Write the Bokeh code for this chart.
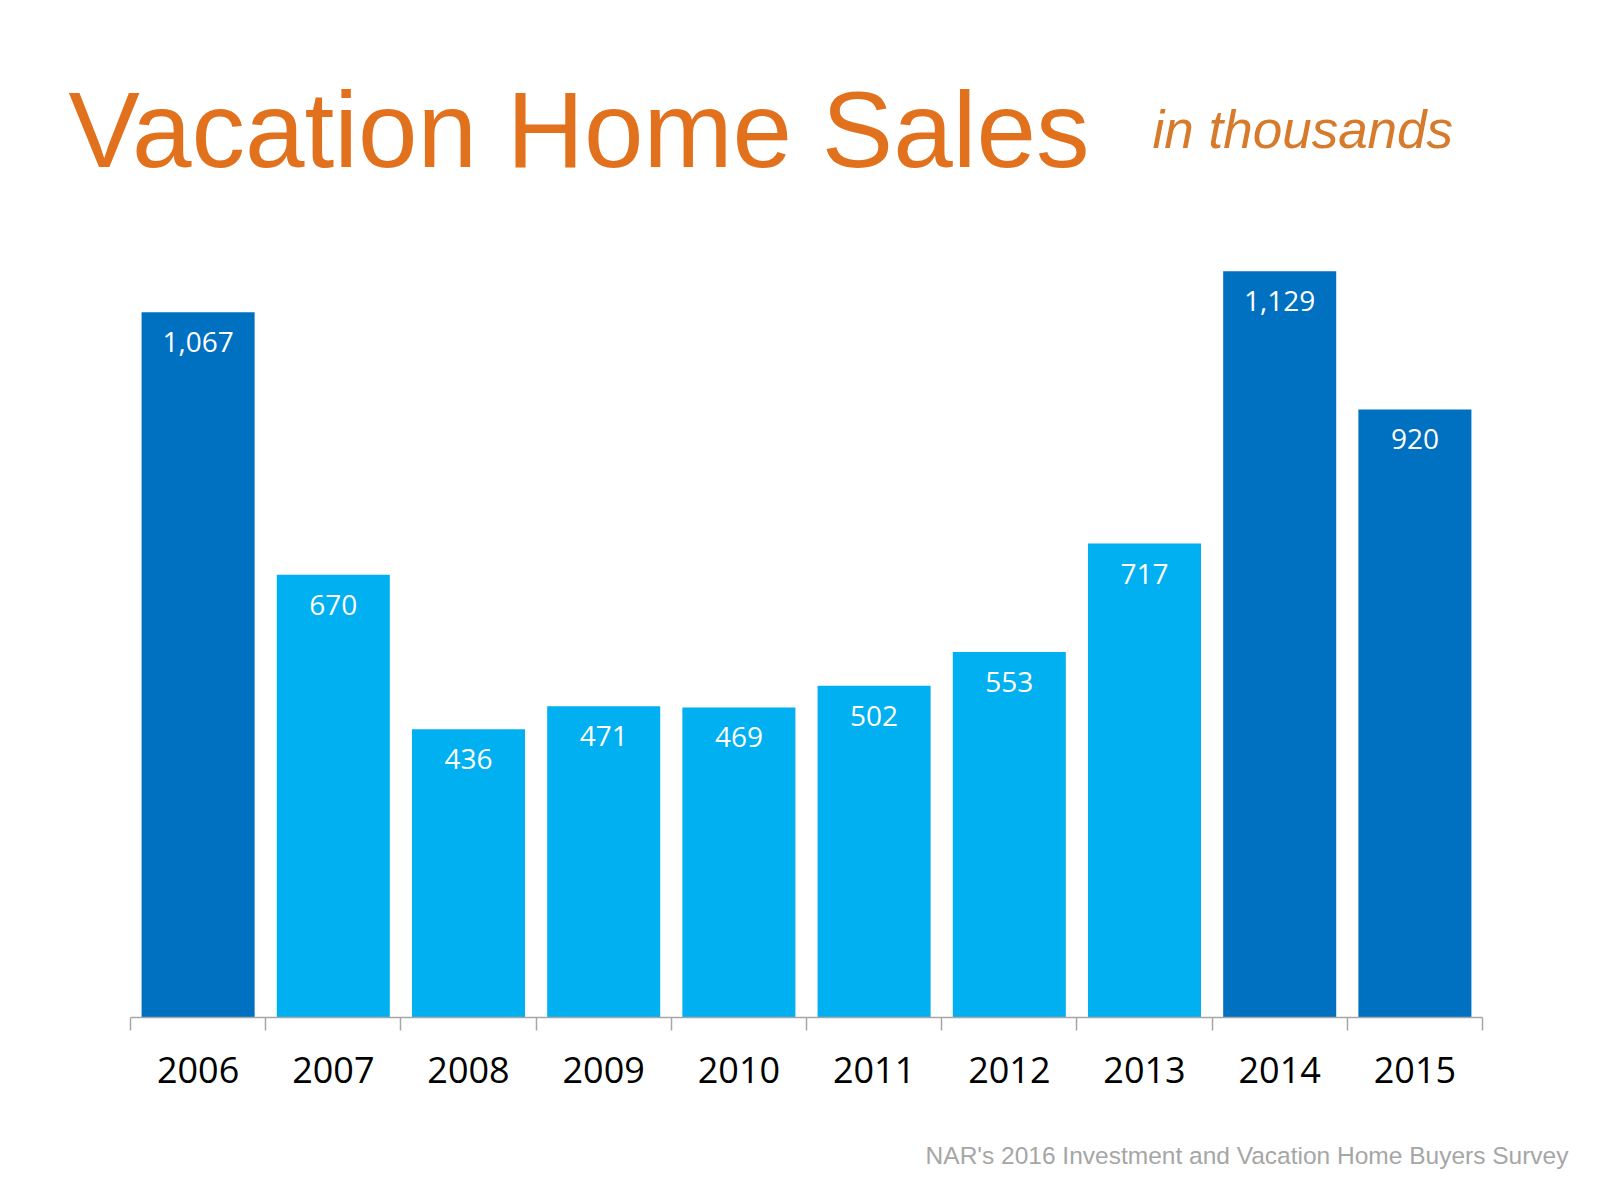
from bokeh.plotting import figure
from bokeh.models import (Range1d, LinearAxis, FixedTicker, ColumnDataSource, Label, Title,
                          CustomLabelingPolicy)
from bokeh.core.properties import value
from bokeh.embed import file_html
from bokeh.resources import INLINE

years = ["2006", "2007", "2008", "2009", "2010", "2011", "2012", "2013", "2014", "2015"]
sales = [1067, 670, 436, 471, 469, 502, 553, 717, 1129, 920]
sales_labels = ["1,067", "670", "436", "471", "469", "502", "553", "717", "1,129", "920"]
highlight = [True, False, False, False, False, False, False, False, True, True]

DARK = "#0070C0"
LIGHT = "#00B0F0"
colors = [DARK if h else LIGHT for h in highlight]
n = len(years)
centers = [i + 0.5 for i in range(n)]

src = ColumnDataSource(dict(x=centers, year=years, sales=sales, label=sales_labels, color=colors))

# frame covers the full width and everything above the axis line
W, H = 1584, 1184
AXIS_Y = 1017          # px from top
LEFT, RIGHT = 130, 1482  # px extent of the categories
unit = (RIGHT - LEFT) / n
px_per_val = 0.661

p = figure(width=W, height=H, output_backend="svg", toolbar_location=None,
           x_range=Range1d(-LEFT / unit, n + (W - RIGHT) / unit),
           y_range=Range1d(0, AXIS_Y / px_per_val),
           x_axis_location=None, y_axis_location=None,
           min_border_left=0, min_border_right=0,
           min_border_top=0, min_border_bottom=H - AXIS_Y,
           background_fill_color="white", border_fill_color="white")
p.outline_line_color = None
p.xgrid.grid_line_color = None
p.ygrid.grid_line_color = None

p.vbar(x="x", top="sales", width=0.836, color="color", source=src, line_color=None)

p.text(x="x", y="sales", text="label", source=src, y_offset=30,
       text_align="center", text_baseline="middle", text_color="white",
       text_font=value("Open Sans"), text_font_size="28px")

# axis line with ticks at category boundaries (no labels)
tick_axis = LinearAxis(ticker=FixedTicker(ticks=list(range(n + 1))), bounds=(0, n))
tick_axis.axis_line_color = "#A6A6A6"
tick_axis.axis_line_width = 1.5
tick_axis.major_tick_line_color = "#A6A6A6"
tick_axis.major_tick_line_width = 1.5
tick_axis.major_tick_out = 13
tick_axis.major_tick_in = 0
tick_axis.minor_tick_line_color = None
tick_axis.major_label_standoff = 0
tick_axis.major_label_policy = CustomLabelingPolicy(
    code="for (const i of indices) { indices.unset(i) }\nreturn indices")
p.add_layout(tick_axis, "below")

# year labels at category centres
label_axis = LinearAxis(ticker=FixedTicker(ticks=centers),
                        major_label_overrides={c: y for c, y in zip(centers, years)})
label_axis.axis_line_color = None
label_axis.major_tick_line_color = None
label_axis.minor_tick_line_color = None
label_axis.major_label_text_font = "Open Sans"
label_axis.major_label_text_font_size = "36px"
label_axis.major_label_text_color = "#000000"
label_axis.major_label_standoff = 9
p.add_layout(label_axis, "below")

# source line: two leading line breaks give the title box the height needed
# to sit the text near the bottom edge, as in the reference
footer = Title(text="\n\nNAR's 2016 Investment and Vacation Home Buyers Survey",
               align="right", offset=16, standoff=0, vertical_align="bottom",
               text_font="Liberation Sans", text_font_size="24.5px",
               text_color="#A6A6A6", text_font_style="normal")
p.add_layout(footer, "below")

p.add_layout(Label(x=68, y=AXIS_Y - 166 + 37, x_units="screen", y_units="screen",
                   text="Vacation Home Sales", text_font="Liberation Sans",
                   text_font_size="107px", text_color="#E2711D",
                   text_align="left", text_baseline="alphabetic"))
p.add_layout(Label(x=1152, y=AXIS_Y - 145 + 16, x_units="screen", y_units="screen",
                   text="in thousands", text_font="Liberation Sans", text_font_style="italic",
                   text_font_size="53px", text_color="#D67A2B",
                   text_align="left", text_baseline="alphabetic"))

open("out.html", "w").write(file_html(p, INLINE))
